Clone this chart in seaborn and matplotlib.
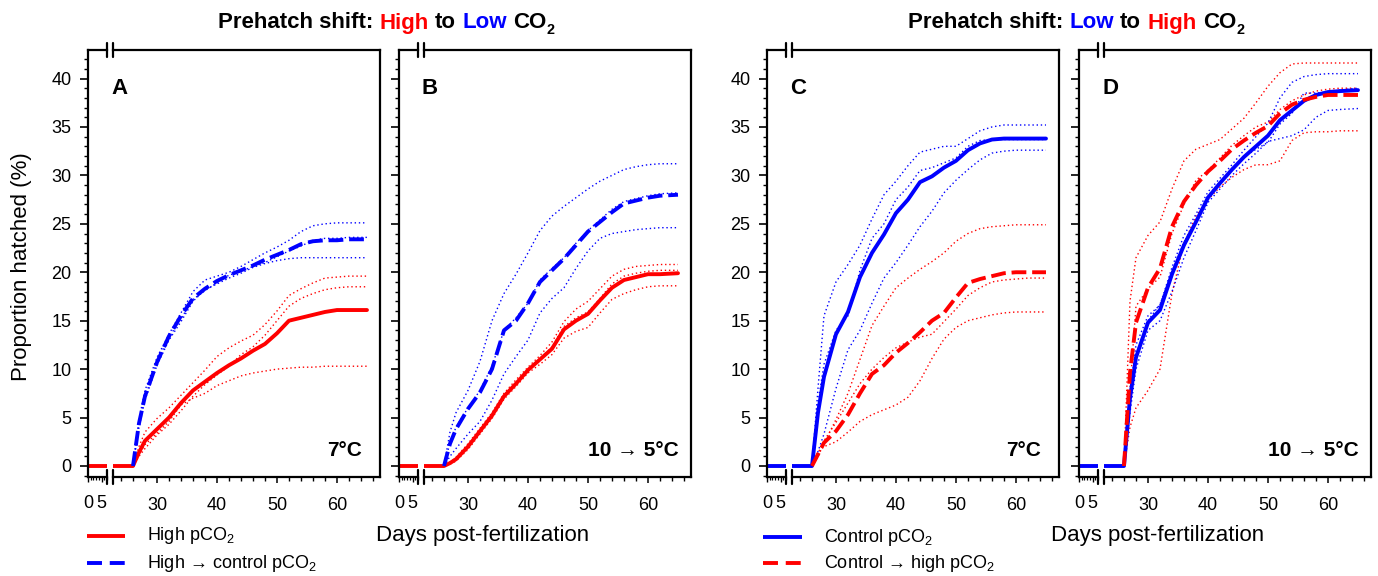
import matplotlib
matplotlib.use("Agg")
import matplotlib.pyplot as plt
import seaborn as sns
from matplotlib.lines import Line2D
from matplotlib.transforms import IdentityTransform
from matplotlib.ticker import MultipleLocator, FixedLocator

sns.set_style("ticks")
plt.rcParams["font.family"] = ["Liberation Sans", "DejaVu Sans"]
plt.rcParams["mathtext.default"] = "regular"
for k in ("text.color", "axes.labelcolor", "xtick.color", "ytick.color", "axes.edgecolor"):
    plt.rcParams[k] = "black"

# ---------------- data ----------------
days = [0, 26, 27, 28, 30, 32, 34, 36, 38, 40, 42, 44, 46, 48, 50, 52, 54, 56, 58, 60, 62, 65]

# Panel A (7 C): high pCO2 (solid red) and high -> control (dashed blue)
a_high = [0, 0, 1.4, 2.6, 3.8, 5.0, 6.5, 7.8, 8.7, 9.6, 10.4, 11.1, 11.9, 12.6, 13.7, 15.0, 15.3, 15.6, 15.9, 16.1, 16.1, 16.1]
a_high_r1 = [0, 0, 2.0, 3.5, 4.9, 6.0, 7.3, 8.6, 9.9, 11.3, 12.2, 12.9, 13.5, 14.6, 16.0, 17.6, 18.3, 18.9, 19.4, 19.5, 19.6, 19.6]
a_high_r2 = [0, 0, 1.0, 1.8, 3.2, 4.3, 5.7, 7.2, 8.4, 9.4, 10.3, 11.5, 12.3, 13.5, 15.0, 16.5, 17.3, 17.8, 18.2, 18.4, 18.5, 18.5]
a_high_r3 = [0, 0, 1.2, 2.2, 3.4, 4.6, 6.3, 7.0, 7.5, 8.3, 8.8, 9.3, 9.6, 9.8, 10.0, 10.1, 10.2, 10.2, 10.3, 10.3, 10.3, 10.3]
a_shift = [0, 0, 4.4, 7.2, 10.7, 13.4, 15.5, 17.3, 18.3, 19.1, 19.7, 20.2, 20.7, 21.3, 21.8, 22.3, 22.9, 23.2, 23.3, 23.3, 23.4, 23.4]
a_shift_r1 = [0, 0, 4.8, 7.8, 11.2, 13.6, 15.8, 18.0, 19.2, 19.6, 20.0, 20.6, 21.3, 22.0, 22.6, 23.3, 24.2, 24.8, 25.0, 25.1, 25.1, 25.1]
a_shift_r2 = [0, 0, 4.0, 6.8, 10.4, 13.0, 14.9, 17.0, 18.2, 18.8, 19.4, 19.9, 20.5, 20.9, 21.2, 21.4, 21.5, 21.5, 21.5, 21.5, 21.5, 21.5]
a_shift_r3 = [0, 0, 4.4, 7.1, 10.8, 13.3, 15.2, 17.2, 18.1, 18.9, 19.7, 20.1, 20.6, 21.0, 21.6, 22.2, 22.7, 23.3, 23.5, 23.5, 23.6, 23.6]

# Panel B (10 -> 5 C)
b_high = [0, 0, 0.3, 0.7, 2.0, 3.6, 5.2, 7.2, 8.5, 9.9, 11.0, 12.1, 14.1, 15.0, 15.7, 17.1, 18.4, 19.2, 19.5, 19.8, 19.8, 19.9]
b_high_r1 = [0, 0, 0.4, 0.9, 2.3, 3.9, 5.5, 7.5, 8.9, 10.2, 11.4, 12.8, 14.9, 16.2, 17.0, 18.3, 19.6, 20.3, 20.6, 20.7, 20.8, 20.8]
b_high_r2 = [0, 0, 0.3, 0.7, 2.0, 3.5, 5.2, 7.2, 8.4, 9.8, 11.1, 12.3, 14.4, 15.3, 15.9, 17.3, 18.8, 19.6, 19.9, 20.1, 20.2, 20.2]
b_high_r3 = [0, 0, 0.2, 0.5, 1.7, 3.3, 4.9, 6.9, 8.2, 9.6, 10.5, 11.5, 13.2, 13.9, 14.3, 15.8, 17.2, 17.8, 18.2, 18.5, 18.6, 18.6]
b_shift = [0, 0, 2.3, 3.8, 5.9, 7.6, 10.0, 14.0, 15.0, 16.8, 19.0, 20.2, 21.4, 22.8, 24.2, 25.2, 26.2, 27.1, 27.4, 27.7, 27.9, 28.0]
b_shift_r1 = [0, 0, 3.5, 5.5, 7.8, 10.8, 15.0, 17.8, 19.8, 22.0, 24.3, 25.8, 26.8, 27.7, 28.6, 29.4, 30.0, 30.6, 30.9, 31.1, 31.2, 31.2]
b_shift_r2 = [0, 0, 1.0, 1.8, 3.3, 4.6, 6.8, 9.5, 11.3, 13.0, 15.8, 17.3, 18.4, 20.4, 22.2, 23.5, 24.0, 24.2, 24.4, 24.5, 24.6, 24.6]
b_shift_r3 = [0, 0, 2.4, 4.0, 6.0, 7.8, 10.3, 14.0, 15.3, 16.8, 19.2, 20.4, 21.5, 23.0, 24.3, 25.4, 26.5, 27.3, 27.6, 27.9, 28.1, 28.2]

# Panel C (7 C): control pCO2 (solid blue) and control -> high (dashed red)
c_ctrl = [0, 0, 5.5, 9.2, 13.6, 15.9, 19.5, 22.0, 23.9, 26.1, 27.5, 29.3, 29.9, 30.8, 31.5, 32.6, 33.3, 33.7, 33.8, 33.8, 33.8, 33.8]
c_ctrl_r1 = [0, 0, 8.0, 15.5, 19.0, 20.8, 22.8, 25.5, 28.0, 29.4, 31.0, 32.4, 32.7, 33.0, 33.0, 33.8, 34.6, 35.0, 35.2, 35.2, 35.2, 35.2]
c_ctrl_r2 = [0, 0, 1.5, 3.3, 8.0, 12.0, 14.0, 16.8, 19.4, 21.0, 22.8, 24.7, 26.3, 28.2, 29.5, 30.6, 31.6, 32.3, 32.5, 32.6, 32.6, 32.6]
c_ctrl_r3 = [0, 0, 6.5, 10.5, 14.0, 15.5, 20.2, 23.5, 25.0, 27.5, 28.8, 30.5, 30.8, 31.3, 31.8, 33.0, 33.6, 33.7, 33.7, 33.7, 33.7, 33.7]
c_shift = [0, 0, 1.2, 2.4, 3.6, 5.3, 7.5, 9.5, 10.4, 11.7, 12.7, 13.8, 15.0, 15.8, 17.4, 18.9, 19.3, 19.6, 19.9, 20.0, 20.0, 20.0]
c_shift_r1 = [0, 0, 1.0, 2.3, 4.8, 7.5, 11.0, 14.5, 16.5, 18.4, 19.4, 20.3, 21.1, 22.0, 23.2, 24.0, 24.5, 24.7, 24.8, 24.9, 24.9, 24.9]
c_shift_r2 = [0, 0, 1.5, 2.0, 2.5, 3.5, 4.6, 5.3, 5.8, 6.3, 7.1, 8.8, 11.1, 13.1, 14.3, 15.0, 15.3, 15.6, 15.8, 15.9, 15.9, 15.9]
c_shift_r3 = [0, 0, 1.0, 2.6, 4.5, 6.5, 8.5, 10.0, 11.2, 12.2, 12.8, 13.3, 13.6, 14.9, 16.2, 17.6, 18.4, 19.0, 19.2, 19.3, 19.4, 19.4]

# Panel D (10 -> 5 C)
d_ctrl = [0, 0, 7.0, 11.2, 14.8, 16.1, 19.8, 22.8, 25.2, 27.7, 29.2, 30.6, 31.9, 33.0, 34.1, 35.7, 36.7, 37.7, 38.3, 38.6, 38.7, 38.8]
d_ctrl_r1 = [0, 0, 7.5, 12.5, 15.5, 16.6, 20.5, 23.8, 26.0, 28.3, 29.7, 31.1, 32.6, 34.0, 35.4, 38.0, 39.6, 40.2, 40.4, 40.5, 40.5, 40.5]
d_ctrl_r2 = [0, 0, 5.5, 10.0, 14.0, 15.0, 18.0, 21.5, 24.3, 27.2, 28.6, 30.0, 31.2, 32.3, 33.5, 33.8, 34.1, 34.7, 36.0, 36.7, 36.8, 36.9]
d_ctrl_r3 = [0, 0, 6.5, 11.5, 15.0, 16.7, 20.0, 23.1, 25.3, 27.9, 29.3, 30.7, 31.9, 32.7, 33.4, 35.3, 36.4, 38.5, 38.5, 38.6, 38.8, 39.0]
d_shift = [0, 0, 9.6, 14.8, 18.4, 20.4, 24.7, 27.3, 29.0, 30.4, 31.5, 32.7, 33.6, 34.4, 35.1, 36.4, 37.3, 37.8, 38.1, 38.3, 38.3, 38.3]
d_shift_r1 = [0, 0, 17.0, 21.5, 23.8, 25.2, 28.6, 31.5, 32.7, 33.2, 33.7, 34.8, 35.9, 37.5, 39.2, 40.6, 41.5, 41.6, 41.6, 41.6, 41.6, 41.6]
d_shift_r2 = [0, 0, 4.0, 6.0, 7.8, 10.0, 17.8, 23.0, 25.8, 27.5, 28.8, 29.8, 30.6, 31.1, 31.1, 31.5, 33.6, 34.4, 34.5, 34.5, 34.6, 34.6]
d_shift_r3 = [0, 0, 8.0, 16.5, 18.3, 19.5, 24.0, 27.0, 29.5, 30.5, 31.8, 33.1, 34.1, 35.0, 35.5, 36.8, 37.7, 38.3, 38.7, 38.9, 39.0, 39.0]

panel_letters = ["A", "B", "C", "D"]
temp_labels = ["7°C", "10 → 5°C", "7°C", "10 → 5°C"]
y_ticks = [0, 5, 10, 15, 20, 25, 30, 35, 40]
x_ticks_left = [0, 5]
x_ticks_right = [30, 40, 50, 60]
titles = [
    [("Prehatch shift:", "black"), ("High", "red"), ("to", "black"), ("Low", "blue"), ("CO", "black")],
    [("Prehatch shift:", "black"), ("Low", "blue"), ("to", "black"), ("High", "red"), ("CO", "black")],
]
legend_left = ["High pCO$_2$", "High → control pCO$_2$"]
legend_right = ["Control pCO$_2$", "Control → high pCO$_2$"]
ylabel = "Proportion hatched (%)"
xlabel = "Days post-fertilization"

RED = "#ff0000"
BLUE = "#0000ff"

# ---------------- layout ----------------
W, H = 1378, 576
TOP, BOT = 50, 476.5
Y0PIX, Y40PIX = 466, 78.5
upp = (Y0PIX - Y40PIX) / 40.0
YLIM = (-(BOT - Y0PIX) / upp, 40 + (Y40PIX - TOP) / upp)
SEG1, GAP, PW = 19, 6, 292
X2L, X2R = 22.67, 67.17

fig = plt.figure(figsize=(W / 100, H / 100), dpi=100)
fig.patch.set_facecolor("white")
ID = IdentityTransform()

LW = 2.8
DASH = (0, (3.8, 1.5))
DOT = (0, (1, 2))

panels = [
    dict(L=88, solid=a_high, sc=RED, dashed=a_shift, dc=BLUE,
         sreps=[a_high_r1, a_high_r2, a_high_r3], dreps=[a_shift_r1, a_shift_r2, a_shift_r3], ylab=True),
    dict(L=399, solid=b_high, sc=RED, dashed=b_shift, dc=BLUE,
         sreps=[b_high_r1, b_high_r2, b_high_r3], dreps=[b_shift_r1, b_shift_r2, b_shift_r3], ylab=False),
    dict(L=767, solid=c_ctrl, sc=BLUE, dashed=c_shift, dc=RED,
         sreps=[c_ctrl_r1, c_ctrl_r2, c_ctrl_r3], dreps=[c_shift_r1, c_shift_r2, c_shift_r3], ylab=True),
    dict(L=1079, solid=d_ctrl, sc=BLUE, dashed=d_shift, dc=RED,
         sreps=[d_ctrl_r1, d_ctrl_r2, d_ctrl_r3], dreps=[d_shift_r1, d_shift_r2, d_shift_r3], ylab=False),
]


def draw_series(ax, p):
    for rep in p["dreps"]:
        sns.lineplot(x=days[1:], y=rep[1:], ax=ax, color=p["dc"], lw=1.0, linestyle=DOT,
                     errorbar=None, estimator=None, sort=False)
    for rep in p["sreps"]:
        sns.lineplot(x=days, y=rep, ax=ax, color=p["sc"], lw=1.0, linestyle=DOT,
                     errorbar=None, estimator=None, sort=False)
    sns.lineplot(x=days, y=p["solid"], ax=ax, color=p["sc"], lw=LW,
                 errorbar=None, estimator=None, sort=False)
    sns.lineplot(x=days[1:], y=p["dashed"][1:], ax=ax, color=p["dc"], lw=LW, linestyle=DASH,
                 errorbar=None, estimator=None, sort=False)


for i, p in enumerate(panels):
    L = p["L"]
    ax1 = fig.add_axes([L / W, 1 - BOT / H, SEG1 / W, (BOT - TOP) / H])
    ax2 = fig.add_axes([(L + SEG1 + GAP) / W, 1 - BOT / H, (PW - SEG1 - GAP) / W, (BOT - TOP) / H])
    for ax in (ax1, ax2):
        draw_series(ax, p)
        ax.set_ylim(*YLIM)
        ax.set_xlabel("")
        ax.set_ylabel("")
        for s in ax.spines.values():
            s.set_linewidth(1.6)
            s.set_color("black")
    ax1.spines["right"].set_visible(False)
    ax2.spines["left"].set_visible(False)

    ax1.set_xlim(0, 7)
    ax1.set_xticks(x_ticks_left)
    ax1.set_xticklabels([str(v) for v in x_ticks_left])
    ax1.xaxis.set_minor_locator(FixedLocator(list(range(0, 8))))
    ax1.set_yticks(y_ticks)
    ax1.yaxis.set_minor_locator(MultipleLocator(1))
    ax1.tick_params(axis="y", which="major", length=5.8, width=1.2, pad=6,
                    labelsize=13, labelleft=p["ylab"], direction="out", colors="black")
    ax1.tick_params(axis="y", which="minor", length=2.9, width=1.0, direction="out", colors="black")
    ax1.tick_params(axis="x", which="major", length=3.5, width=1.0, pad=10, labelsize=13, colors="black")
    ax1.tick_params(axis="x", which="minor", length=2.5, width=0.9, colors="black")

    ax2.set_xlim(X2L, X2R)
    ax2.set_xticks(x_ticks_right)
    ax2.set_xticklabels([str(v) for v in x_ticks_right])
    ax2.xaxis.set_minor_locator(FixedLocator(list(range(24, 67, 2))))
    ax2.tick_params(axis="y", which="both", left=False, right=False, labelleft=False)
    ax2.tick_params(axis="x", which="major", length=4.5, width=1.1, pad=10, labelsize=13, colors="black")
    ax2.tick_params(axis="x", which="minor", length=2.8, width=1.0, colors="black")

    # axis-break marks
    for bx in (L + SEG1, L + SEG1 + GAP):
        for by in (TOP, BOT):
            fig.add_artist(Line2D([bx, bx], [H - by - 7, H - by + 7], transform=ID,
                                  color="black", lw=1.6))

    fig.text(L + 31, H - 88, panel_letters[i], transform=ID, ha="center", va="center",
             fontsize=16, fontweight="bold", color="black")
    rx = L + PW - (18 if i in (0, 2) else 12)
    fig.text(rx, H - 451, temp_labels[i], transform=ID, ha="right", va="center",
             fontsize=15, fontweight="bold", color="black")

# ---------------- titles with coloured words ----------------
renderer = fig.canvas.get_renderer()


def text_w(s, size, weight="bold"):
    t = fig.text(0, 0, s, fontsize=size, fontweight=weight, transform=ID)
    w = t.get_window_extent(renderer).width
    t.remove()
    return w


def rich_title(parts, cx, base_y, fs):
    space = text_w("a a", fs) - text_w("aa", fs)
    subfs = fs * 0.65
    widths = [text_w(s, fs) for s, _ in parts]
    subw = text_w("2", subfs)
    total = sum(widths) + space * (len(parts) - 1) + subw
    x = cx - total / 2
    for (s, c), w in zip(parts, widths):
        fig.text(x, base_y, s, color=c, fontsize=fs, fontweight="bold", transform=ID,
                 ha="left", va="baseline")
        x += w + space
    x -= space
    fig.text(x + 0.5, base_y - fs * 0.32, "2", color="black", fontsize=subfs, fontweight="bold",
             transform=ID, ha="left", va="baseline")


rich_title(titles[0], 386, H - 28.5, 16)
rich_title(titles[1], 1076, H - 28.5, 16)

# ---------------- axis labels ----------------
fig.text(22, H - 267, ylabel, transform=ID, rotation=90, ha="center", va="center", fontsize=16, color="black")
fig.text(483, H - 536, xlabel, transform=ID, ha="center", va="center", fontsize=16, color="black")
fig.text(1158, H - 536, xlabel, transform=ID, ha="center", va="center", fontsize=16, color="black")

# ---------------- legends ----------------
def legend_entry(x0, x1, y, color, style, label):
    fig.add_artist(Line2D([x0, x1], [H - y, H - y], transform=ID, color=color, lw=LW,
                          linestyle=style, dash_capstyle="butt", solid_capstyle="butt"))
    fig.text(x1 + 22, H - y, label, transform=ID, ha="left", va="center", fontsize=13, color="black")


LEG_DASH = (0, (3.85, 2.0))
legend_entry(87, 125, 536, RED, "-", legend_left[0])
legend_entry(87, 125, 563, BLUE, LEG_DASH, legend_left[1])
legend_entry(763, 802, 537, BLUE, "-", legend_right[0])
legend_entry(763, 802, 563, RED, LEG_DASH, legend_right[1])

fig.savefig("out.png", dpi=100, facecolor="white")
